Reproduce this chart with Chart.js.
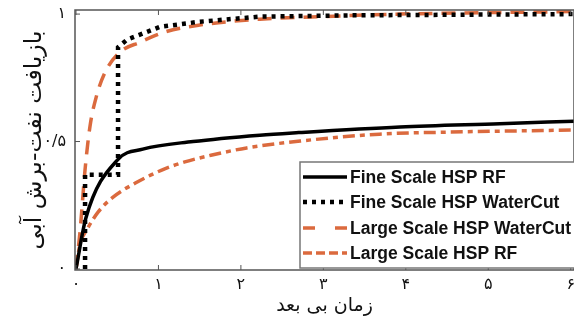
<!DOCTYPE html>
<html>
<head>
<meta charset="utf-8">
<script src="https://cdn.jsdelivr.net/npm/chart.js@4.4.0/dist/chart.umd.min.js"></script>
<style>
  html, body { margin: 0; padding: 0; background: #fff; }
  #wrap { width: 574px; height: 327px; }
</style>
</head>
<body>
<div id="wrap"><canvas id="chart" width="574" height="327"></canvas></div>
<script>
// Values
const seriesNames = ['Fine Scale HSP RF', 'Fine Scale HSP WaterCut', 'Large Scale HSP WaterCut', 'Large Scale HSP RF'];

const fineRfX = [0, 0.12, 0.51, 0.81, 1.42, 2.23, 2.7, 3.93, 5.14, 6.04];
const fineRfY = [0, 0.20, 0.43, 0.47, 0.50, 0.525, 0.535, 0.557, 0.57, 0.58];

const fineWcX = [0.11, 0.11, 0.51, 0.51, 0.62, 1.02, 1.5, 2.23, 3.32, 6.04];
const fineWcY = [0, 0.37, 0.37, 0.87, 0.90, 0.95, 0.97, 0.99, 0.995, 1.0];

const largeWcX = [0, 0.05, 0.11, 0.17, 0.25, 0.35, 0.53, 0.78, 1.08, 1.5, 2.23, 2.96, 3.93, 6.04];
const largeWcY = [0, 0.15, 0.39, 0.56, 0.68, 0.77, 0.85, 0.89, 0.93, 0.957, 0.98, 0.99, 1.0, 1.01];

const largeRfX = [0, 0.05, 0.13, 0.27, 0.45, 0.72, 1.04, 1.32, 1.65, 2.07, 2.72, 3.68, 4.53, 6.04];
const largeRfY = [0, 0.10, 0.153, 0.224, 0.282, 0.337, 0.388, 0.42, 0.447, 0.475, 0.502, 0.529, 0.537, 0.545];

const xTickValues = [0, 1, 2, 3, 4, 5, 6];
const xTickLabels = ['۰', '۱', '۲', '۳', '۴', '۵', '۶'];
const yTickValues = [0, 0.5, 1];
const yTickLabels = ['۰', '۰/۵', '۱'];

const xTitle = 'زمان بی بعد';
const yTitle = 'بازیافت نفت-برش آبی';

const orange = '#DB6A3E';

function pts(xs, ys) {
    return xs.map((x, i) => ({ x: x, y: ys[i] }));
}

// frame + inward ticks, like the MATLAB box
const boxPlugin = {
    id: 'box',
    afterDraw(chart) {
        const { ctx, chartArea: a, scales } = chart;
        ctx.save();
        ctx.strokeStyle = '#555';
        ctx.lineWidth = 1.5;
        ctx.strokeRect(a.left, a.top, a.right - a.left, a.bottom - a.top);
        ctx.lineWidth = 1;
        ctx.beginPath();
        xTickValues.forEach(v => {
            const px = scales.x.getPixelForValue(v);
            ctx.moveTo(px, a.bottom); ctx.lineTo(px, a.bottom - 5);
            ctx.moveTo(px, a.top); ctx.lineTo(px, a.top + 5);
        });
        yTickValues.forEach(v => {
            const py = scales.y.getPixelForValue(v);
            ctx.moveTo(a.left, py); ctx.lineTo(a.left + 5, py);
        });
        ctx.stroke();
        ctx.restore();
    }
};

// legend box inside the plot, lower right
const legendPlugin = {
    id: 'boxLegend',
    afterDraw(chart) {
        const { ctx } = chart;
        const left = 300, top = 162, bottom = 268;
        ctx.save();
        ctx.fillStyle = '#fff';
        ctx.fillRect(left, top, 280, bottom - top);
        ctx.strokeStyle = '#777';
        ctx.lineWidth = 1.5;
        ctx.strokeRect(left, top, 280, bottom - top);
        const rows = [177, 202, 228, 253];
        chart.data.datasets.forEach((ds, i) => {
            const y = rows[i];
            ctx.beginPath();
            ctx.strokeStyle = ds.borderColor;
            ctx.lineWidth = ds.borderWidth;
            ctx.setLineDash(ds.legendDash || ds.borderDash || []);
            ctx.moveTo(303, y);
            ctx.lineTo(347, y);
            ctx.stroke();
            ctx.setLineDash([]);
            ctx.fillStyle = '#111';
            ctx.font = 'bold 17.5px "Liberation Sans", Arial, sans-serif';
            ctx.textBaseline = 'middle';
            ctx.fillText(ds.label, 350, y + 1);
        });
        ctx.restore();
    }
};

new Chart(document.getElementById('chart'), {
    type: 'line',
    data: {
        datasets: [
            {
                label: seriesNames[0],
                data: pts(fineRfX, fineRfY),
                borderColor: '#000',
                borderWidth: 3.5,
                cubicInterpolationMode: 'monotone'
            },
            {
                label: seriesNames[1],
                data: pts(fineWcX, fineWcY),
                borderColor: '#000',
                borderWidth: 4.5,
                borderDash: [4, 5],
                legendDash: [4, 5],
                tension: 0
            },
            {
                label: seriesNames[2],
                data: pts(largeWcX, largeWcY),
                borderColor: orange,
                borderWidth: 3.5,
                borderDash: [14, 9],
                legendDash: [12, 20],
                cubicInterpolationMode: 'monotone'
            },
            {
                label: seriesNames[3],
                data: pts(largeRfX, largeRfY),
                borderColor: orange,
                borderWidth: 3.5,
                borderDash: [12, 5, 5, 5],
                legendDash: [9, 4],
                cubicInterpolationMode: 'monotone'
            }
        ]
    },
    options: {
        responsive: false,
        animation: false,
        layout: { padding: { top: 10, right: 0, left: 0, bottom: 0 } },
        elements: { point: { radius: 0 } },
        plugins: {
            legend: { display: false },
            tooltip: { enabled: false }
        },
        scales: {
            x: {
                type: 'linear',
                min: -0.012,
                max: 6.04,
                grid: { display: false, drawTicks: false },
                border: { display: false },
                afterBuildTicks: scale => { scale.ticks = xTickValues.map(v => ({ value: v })); },
                afterFit: scale => {
                    scale.height = 57;
                    scale.paddingLeft = 0;
                    scale.paddingRight = 0;
                },
                ticks: {
                    padding: 5,
                    color: '#111',
                    font: { family: 'DejaVu Sans', size: 16 },
                    callback: value => xTickLabels[xTickValues.indexOf(value)]
                },
                title: {
                    display: true,
                    text: xTitle,
                    color: '#111',
                    font: { family: 'DejaVu Sans', size: 19 },
                    padding: { bottom: 10 }
                }
            },
            y: {
                min: -0.004,
                max: 1.016,
                grid: { display: false, drawTicks: false },
                border: { display: false },
                afterBuildTicks: scale => { scale.ticks = yTickValues.map(v => ({ value: v })); },
                afterFit: scale => {
                    scale.width = 75;
                    scale.paddingTop = 0;
                    scale.paddingBottom = 0;
                },
                ticks: {
                    padding: 9,
                    color: '#111',
                    font: { family: 'DejaVu Sans', size: 16 },
                    callback: value => yTickLabels[yTickValues.indexOf(value)]
                },
                title: {
                    display: true,
                    text: yTitle,
                    color: '#111',
                    font: { family: 'DejaVu Sans', size: 23.5 },
                    padding: { top: 21 }
                }
            }
        }
    },
    plugins: [boxPlugin, legendPlugin]
});
</script>
</body>
</html>
